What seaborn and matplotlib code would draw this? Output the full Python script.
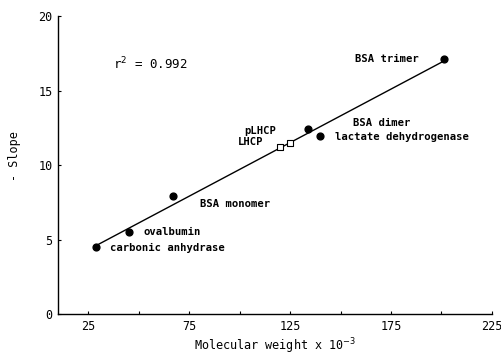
import numpy as np
import pandas as pd
import matplotlib
matplotlib.use("Agg")
import matplotlib.pyplot as plt
from matplotlib.ticker import MultipleLocator
import seaborn as sns


# -----------------------------
# Data
# -----------------------------

proteins = [
    "carbonic anhydrase",
    "ovalbumin",
    "BSA monomer",
    "BSA dimer",
    "lactate dehydrogenase",
    "BSA trimer",
]
mol_weight = [29, 45, 67, 134, 140, 201]
neg_slope = [4.47, 5.53, 7.93, 12.4, 11.93, 17.13]

lhcp_names = ["LHCP", "pLHCP"]
lhcp_weight = [120, 125]
lhcp_slope = [11.2, 11.47]

r2_text = "r$^2$ = 0.992"

df = pd.DataFrame({
    "protein": proteins,
    "mw": mol_weight,
    "slope": neg_slope,
})

df_lhcp = pd.DataFrame({
    "protein": lhcp_names,
    "mw": lhcp_weight,
    "slope": lhcp_slope,
})

# -----------------------------
# Plot
# -----------------------------

sns.set_style("ticks")
plt.rcParams["font.family"] = ["DejaVu Sans Mono", "DejaVu Sans"]
plt.rcParams["font.size"] = 7.6
plt.rcParams["text.color"] = "black"
plt.rcParams["axes.labelcolor"] = "black"
plt.rcParams["xtick.color"] = "black"
plt.rcParams["ytick.color"] = "black"

fig = plt.figure(figsize=(5.02, 3.58), dpi=100)
ax = fig.add_axes([0.1155, 0.123, 0.8645, 0.832])

sns.regplot(
    data=df,
    x="mw",
    y="slope",
    ci=None,
    ax=ax,
    color="black",
    scatter_kws={"s": 24, "zorder": 3, "alpha": 1.0},
    line_kws={"linewidth": 1.0},
)

sns.scatterplot(
    data=df_lhcp,
    x="mw",
    y="slope",
    marker="s",
    s=22,
    facecolor="white",
    edgecolor="black",
    linewidth=0.8,
    ax=ax,
    zorder=4,
)

# point labels
label_pos = {
    "carbonic anhydrase": (36, 4.4),
    "ovalbumin": (52.5, 5.53),
    "BSA monomer": (80.5, 7.4),
    "BSA dimer": (156, 12.8),
    "lactate dehydrogenase": (147, 11.9),
    "BSA trimer": (157, 17.13),
    "pLHCP": (102.5, 12.27),
    "LHCP": (99, 11.53),
}
for name, (lx, ly) in label_pos.items():
    ax.text(lx, ly, name, ha="left", va="center", fontsize=7.6,
            fontweight="bold")

ax.text(37.5, 16.4, r2_text, fontsize=9)

ax.set_xlim(10, 225)
ax.set_ylim(0, 20)
ax.set_xticks([25, 75, 125, 175, 225])
ax.xaxis.set_minor_locator(MultipleLocator(25))
ax.set_yticks([0, 5, 10, 15, 20])

ax.tick_params(axis="both", which="both", direction="in", length=2,
               width=0.8, labelsize=8.5, pad=4)

ax.set_xlabel("Molecular weight x 10$^{-3}$", fontsize=8.5, labelpad=3)
ax.set_ylabel("- Slope", fontsize=8.5)
ax.yaxis.set_label_coords(-0.085, 0.53)

sns.despine(ax=ax)
for side in ["left", "bottom"]:
    ax.spines[side].set_linewidth(1.0)
    ax.spines[side].set_color("black")

fig.savefig("out.png", dpi=100)
plt.close(fig)
